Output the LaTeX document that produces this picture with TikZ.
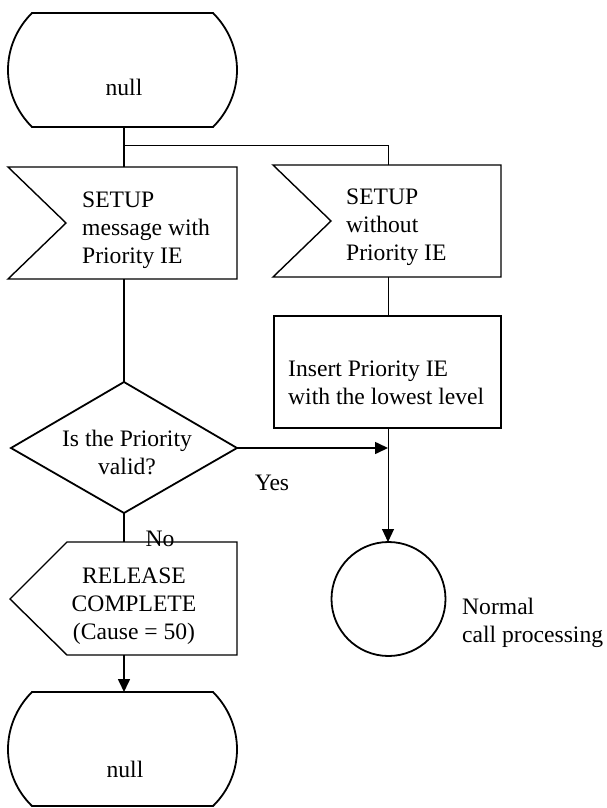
\documentclass[tikz,border=0pt]{standalone}
\usepackage{fontspec}
\setmainfont{Liberation Serif}
\usetikzlibrary{arrows.meta}
\begin{document}
\begin{tikzpicture}[x=1pt,y=-1pt,
  heavyline/.style={draw=black,line width=1.8pt,line join=miter},
  boxline/.style={draw=black,line width=1.4pt,line join=miter},
  conn/.style={draw=black,line width=1.6pt},
  connthin/.style={draw=black,line width=1pt},
  arr/.style={-{Triangle[length=13pt,width=12pt]}},
  txt/.style={font=\fontsize{23.6}{28}\selectfont,inner sep=0pt,align=left},
  ctxt/.style={font=\fontsize{23.6}{28}\selectfont,inner sep=0pt,align=center}
]
\useasboundingbox (0,0) rectangle (607,808);

% ---- shapes ----
% top terminator
\draw[heavyline] (32,13) -- (213,13) .. controls (245,45) and (245,95) .. (213,127)
  -- (32,127) .. controls (0,95) and (0,45) .. (32,13) -- cycle;
\node[ctxt] (nulltop) at (124,87) {null};

% SETUP with priority (receive)
\draw[boxline] (8,167) -- (237,167) -- (237,279) -- (8,279) -- (66,223) -- cycle;
\node[txt,anchor=west] (setupL) at (82,230) {SETUP\\message with\\Priority IE};

% SETUP without priority (receive)
\draw[boxline] (273,165) -- (501,165) -- (501,277) -- (273,277) -- (331,221) -- cycle;
\node[txt,anchor=west] (setupR) at (346,227) {SETUP\\without\\Priority IE};

% Insert task
\draw[boxline] (274,316) rectangle (501,428);
\node[txt,anchor=west] (insert) at (288,383) {Insert Priority IE\\with the lowest level};

% decision
\draw[heavyline] (124,382) -- (237,448) -- (124,513) -- (11,448) -- cycle;
\node[ctxt] (decide) at (127,452) {Is the Priority\\valid?};

% RELEASE COMPLETE (send)
\draw[boxline] (67,542) -- (237,542) -- (237,655) -- (67,655) -- (10,599) -- cycle;
\node[ctxt] (release) at (134,606) {RELEASE\\COMPLETE\\(Cause = 50)};

% connector circle
\draw[heavyline] (388.5,599) circle (57);
\node[txt,anchor=west] (normal) at (462,623) {Normal\\call processing};

% bottom terminator
\draw[heavyline] (32,692) -- (213,692) .. controls (245,724) and (245,775) .. (213,806)
  -- (32,806) .. controls (0,775) and (0,724) .. (32,692) -- cycle;
\node[ctxt] (nullbot) at (125,769) {null};

% ---- connection points ----
\coordinate (nullTopB) at (124,127);
\coordinate (branch) at (124,145);
\coordinate (setupLT) at (124,167);
\coordinate (setupLB) at (124,279);
\coordinate (setupRT) at (388,165);
\coordinate (setupRB) at (388,277);
\coordinate (insertT) at (388,316);
\coordinate (insertB) at (388,428);
\coordinate (decT) at (124,382);
\coordinate (decR) at (237,448);
\coordinate (decB) at (124,513);
\coordinate (joinR) at (388,448);
\coordinate (circT) at (388,542);
\coordinate (relT) at (124,542);
\coordinate (relB) at (124,655);
\coordinate (nullBotT) at (124,692);

% ---- connectors ----
\draw[conn] (nullTopB) -- (setupLT);
\draw[connthin] (branch) -| (setupRT);
\draw[conn] (setupLB) -- (decT);
\draw[connthin] (setupRB) -- (insertT);
\draw[connthin,arr] (insertB) -- (circT);
\draw[conn,arr] (decR) -- (joinR);
\draw[conn] (decB) -- (relT);
\draw[conn,arr] (relB) -- (nullBotT);

% ---- labels ----
\node[ctxt] (yes) at (272,483) {Yes};
\node[ctxt] (no) at (160,539) {No};
\end{tikzpicture}
\end{document}
